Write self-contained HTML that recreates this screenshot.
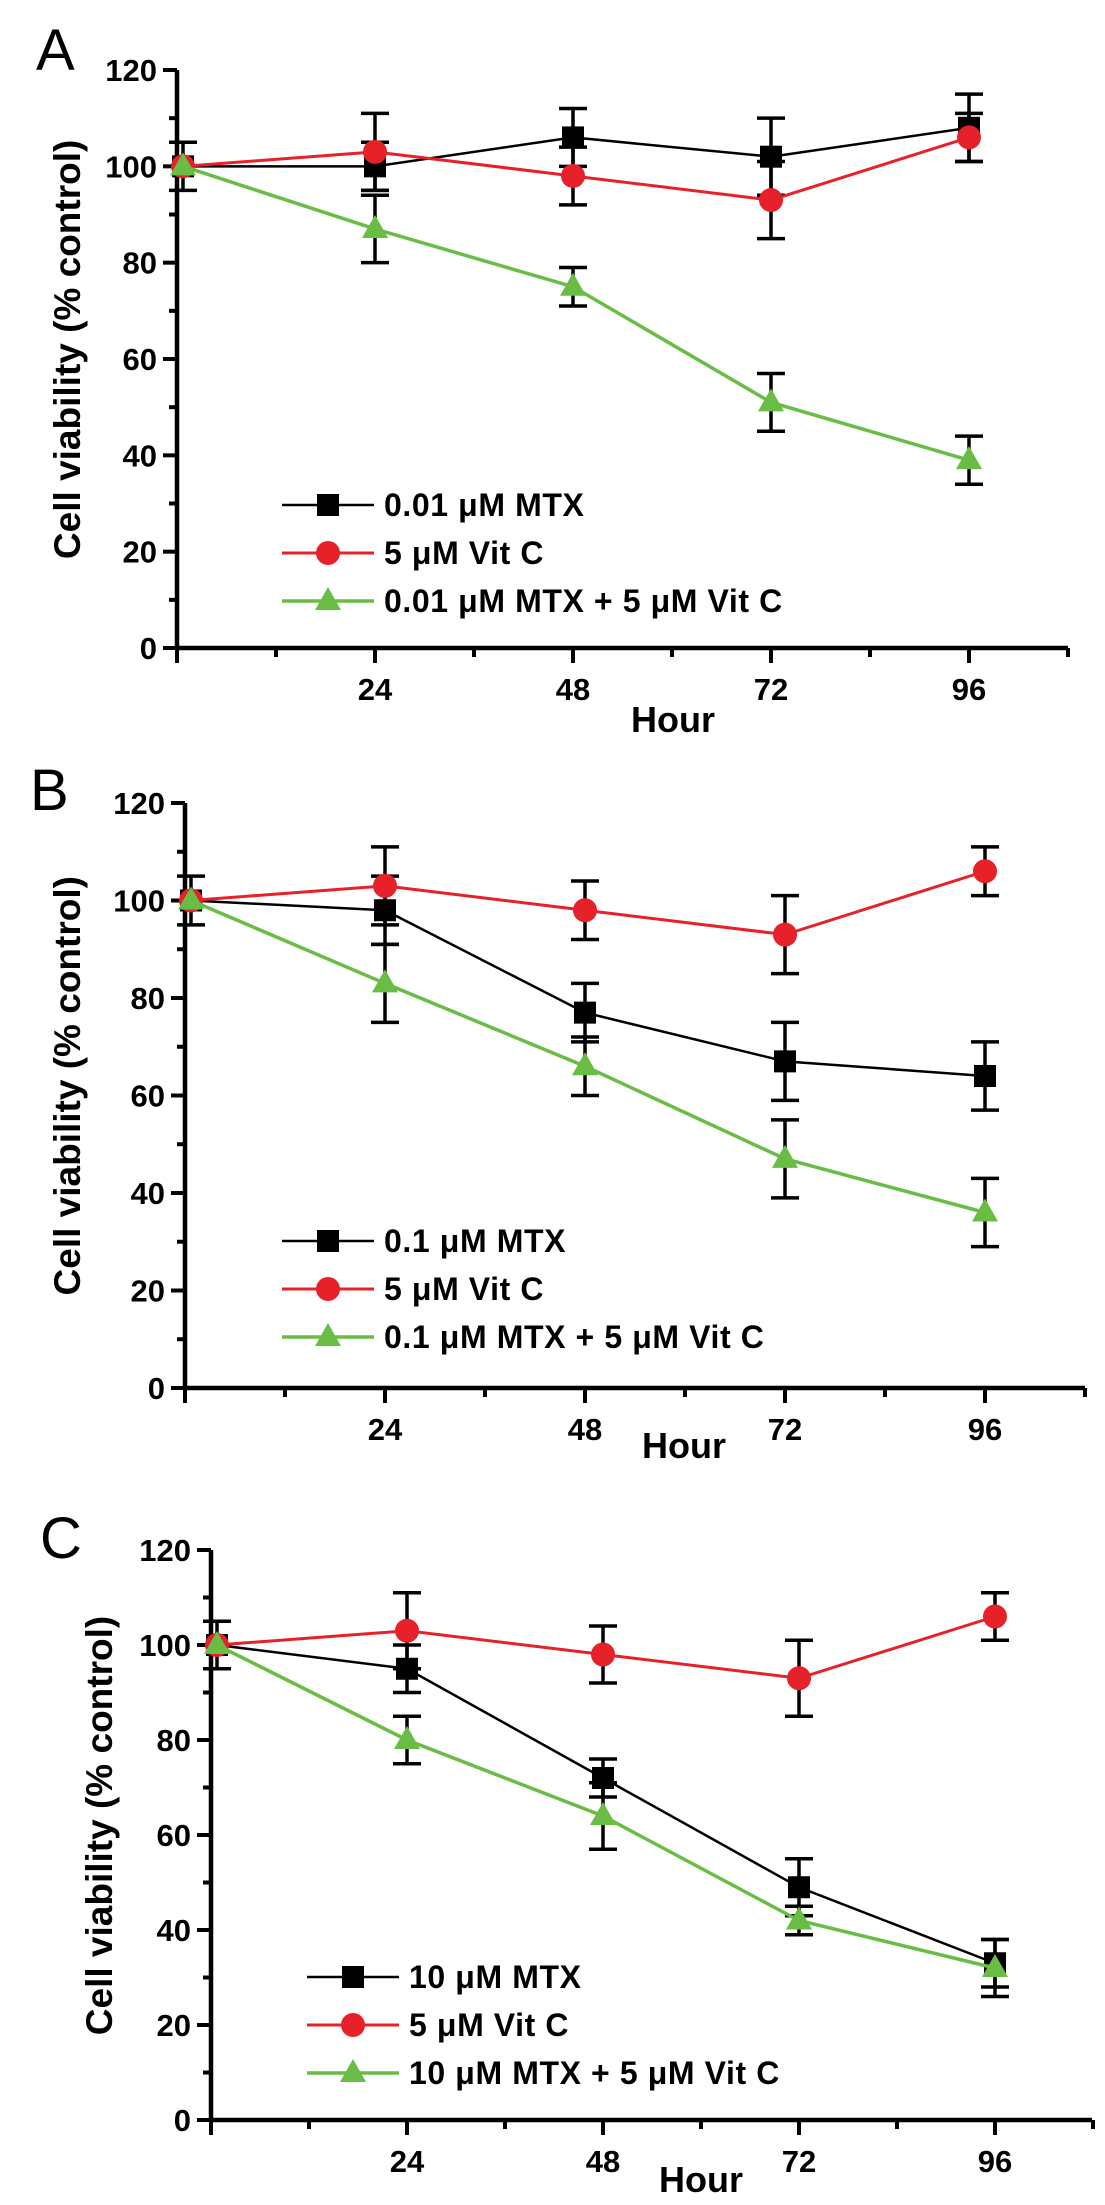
<!DOCTYPE html>
<html><head><meta charset="utf-8"><style>
html,body{margin:0;padding:0;background:#fff;}
svg{display:block;font-family:"Liberation Sans",Arial,sans-serif;}
</style></head><body>
<svg id="fig" width="1105" height="2205" viewBox="0 0 1105 2205" xmlns="http://www.w3.org/2000/svg"></svg>
<script>
const hours = [0, 24, 48, 72, 96];
const yTicks = [0, 20, 40, 60, 80, 100, 120];
const xTickLabels = [24, 48, 72, 96];
const vitC = [100, 103, 98, 93, 106];
const vitCErr = [0, 8, 6, 8, 5];
const mtxA = [100, 100, 106, 102, 108];
const mtxAErr = [5, 5, 6, 8, 7];
const comboA = [100, 87, 75, 51, 39];
const comboAErr = [0, 7, 4, 6, 5];
const mtxB = [100, 98, 77, 67, 64];
const mtxBErr = [5, 7, 6, 8, 7];
const comboB = [100, 83, 66, 47, 36];
const comboBErr = [0, 8, 6, 8, 7];
const mtxC = [100, 95, 72, 49, 33];
const mtxCErr = [5, 5, 4, 6, 5];
const comboC = [100, 80, 64, 42, 32];
const comboCErr = [0, 5, 7, 3, 6];
const labelsA = ["0.01 μM MTX", "5 μM Vit C", "0.01 μM MTX + 5 μM Vit C"];
const labelsB = ["0.1 μM MTX", "5 μM Vit C", "0.1 μM MTX + 5 μM Vit C"];
const labelsC = ["10 μM MTX", "5 μM Vit C", "10 μM MTX + 5 μM Vit C"];

const NS = "http://www.w3.org/2000/svg";
const svg = document.getElementById("fig");
function mk(tag, attrs, parent, text) {
  const e = document.createElementNS(NS, tag);
  for (const k in attrs) e.setAttribute(k, attrs[k]);
  if (text !== undefined) e.textContent = text;
  (parent || svg).appendChild(e);
  return e;
}
const RED = "#e62129", GREEN = "#69bd45";

function marker(g, shape, cx, cy, color) {
  let m;
  if (shape === "square") m = mk("rect", {x: cx - 11, y: cy - 11, width: 22, height: 22, fill: color}, g);
  else if (shape === "circle") m = mk("circle", {cx: cx, cy: cy, r: 12, fill: color}, g);
  else m = mk("polygon", {points: `${cx},${cy - 14} ${cx + 13},${cy + 9} ${cx - 13},${cy + 9}`, fill: color}, g);
  return m;
}

function panel(p) {
  const g = mk("g", {});
  
  
  const xs = h => p.x0 + h * p.xScale;
  const ys = v => p.y0 - v * p.yScale;
  const L = mk("text", {x: p.letterX, y: p.letterY, "font-size": 58, fill: "#000"}, g, p.letter);
  
  
  const ax = mk("g", {}, g);
  
  
  mk("line", {x1: p.x0, y1: ys(120), x2: p.x0, y2: p.y0 + 2, stroke: "#000", "stroke-width": 4.5}, ax);
  mk("line", {x1: p.x0 - 2, y1: p.y0, x2: p.xEnd, y2: p.y0, stroke: "#000", "stroke-width": 4.5}, ax);
  for (let v = 0; v <= 120; v += 10) {
    const major = v % 20 === 0;
    mk("line", {x1: p.x0 - (major ? 14 : 8), y1: ys(v), x2: p.x0, y2: ys(v), stroke: "#000", "stroke-width": 4}, ax);
  }
  yTicks.forEach(v => {
    const t = mk("text", {x: p.x0 - 20, y: ys(v) + 11, "font-size": 31, "font-weight": "bold", "text-anchor": "end"}, ax, v);
    
    
  });
  for (let h = 0; h * p.xScale + p.x0 <= p.xEnd + 1; h += 12) {
    const major = h % 24 === 0;
    mk("line", {x1: xs(h), y1: p.y0, x2: xs(h), y2: p.y0 + (major ? 15 : 9), stroke: "#000", "stroke-width": 4}, ax);
  }
  xTickLabels.forEach(h => {
    const t = mk("text", {x: xs(h), y: p.y0 + 52, "font-size": 31, "font-weight": "bold", "text-anchor": "middle"}, ax, h);
    
    
  });
  const xt = mk("text", {x: p.hourX, y: p.hourY, "font-size": 36, "font-weight": "bold", "text-anchor": "middle"}, g, "Hour");
  
  
  const yt = mk("text", {x: 0, y: 0, "font-size": 37, "font-weight": "bold", "text-anchor": "middle",
    transform: `translate(${p.titleX},${ys(62)}) rotate(-90)`}, g, "Cell viability (% control)");
  
  

  p.series.forEach(s => {
    const sg = mk("g", {}, g);
    
    
    const pts = hours.map((h, i) => xs(h) + 6 * (i === 0 ? 1 : 0) + "," + ys(s.vals[i])).join(" ");
    mk("polyline", {points: pts, fill: "none", stroke: s.color, "stroke-width": s.w}, sg);
    hours.forEach((h, i) => {
      const cx = xs(h) + (i === 0 ? 6 : 0), e = s.err[i];
      if (e > 0) {
        const eb = mk("g", {stroke: "#000", "stroke-width": 3.5}, sg);
        
        
        mk("line", {x1: cx, y1: ys(s.vals[i] + e), x2: cx, y2: ys(s.vals[i] - e)}, eb);
        mk("line", {x1: cx - 14, y1: ys(s.vals[i] + e), x2: cx + 14, y2: ys(s.vals[i] + e)}, eb);
        mk("line", {x1: cx - 14, y1: ys(s.vals[i] - e), x2: cx + 14, y2: ys(s.vals[i] - e)}, eb);
      }
      const m = marker(sg, s.shape, cx, ys(s.vals[i]), s.color);
      
      
    });
  });
  const lg = mk("g", {}, g);
  
  
  p.series.forEach((s, i) => {
    const y = p.legY + i * 48;
    const le = mk("g", {}, lg);
    
    
    mk("line", {x1: p.legX, y1: y, x2: p.legX + 92, y2: y, stroke: s.color, "stroke-width": s.w}, le);
    marker(le, s.shape, p.legX + 46, y, s.color);
    mk("text", {x: p.legX + 102, y: y + 11, "font-size": 32, "font-weight": "bold", "letter-spacing": 0.6}, le, p.labels[i]);
  });
}

function seriesSet(mtx, mtxErr, combo, comboErr) {
  return [
    {key: "mtx", vals: mtx, err: mtxErr, color: "#000", shape: "square", w: 2.5},
    {key: "vitc", vals: vitC, err: vitCErr, color: RED, shape: "circle", w: 3},
    {key: "combo", vals: combo, err: comboErr, color: GREEN, shape: "triangle", w: 3.5}
  ];
}

panel({letter: "A", letterX: 36, letterY: 70, x0: 177, y0: 648, xScale: 198 / 24, yScale: 578 / 120, xEnd: 1068,
  hourX: 673, hourY: 732, titleX: 80, legX: 282, legY: 505, labels: labelsA,
  series: seriesSet(mtxA, mtxAErr, comboA, comboAErr)});
panel({letter: "B", letterX: 30, letterY: 810, x0: 185, y0: 1388, xScale: 200 / 24, yScale: 585 / 120, xEnd: 1085,
  hourX: 684, hourY: 1458, titleX: 80, legX: 282, legY: 1241, labels: labelsB,
  series: seriesSet(mtxB, mtxBErr, comboB, comboBErr)});
panel({letter: "C", letterX: 40, letterY: 1558, x0: 211, y0: 2120, xScale: 196 / 24, yScale: 570 / 120, xEnd: 1092,
  hourX: 701, hourY: 2192, titleX: 112, legX: 307, legY: 1977, labels: labelsC,
  series: seriesSet(mtxC, mtxCErr, comboC, comboCErr)});
</script>
</body></html>
